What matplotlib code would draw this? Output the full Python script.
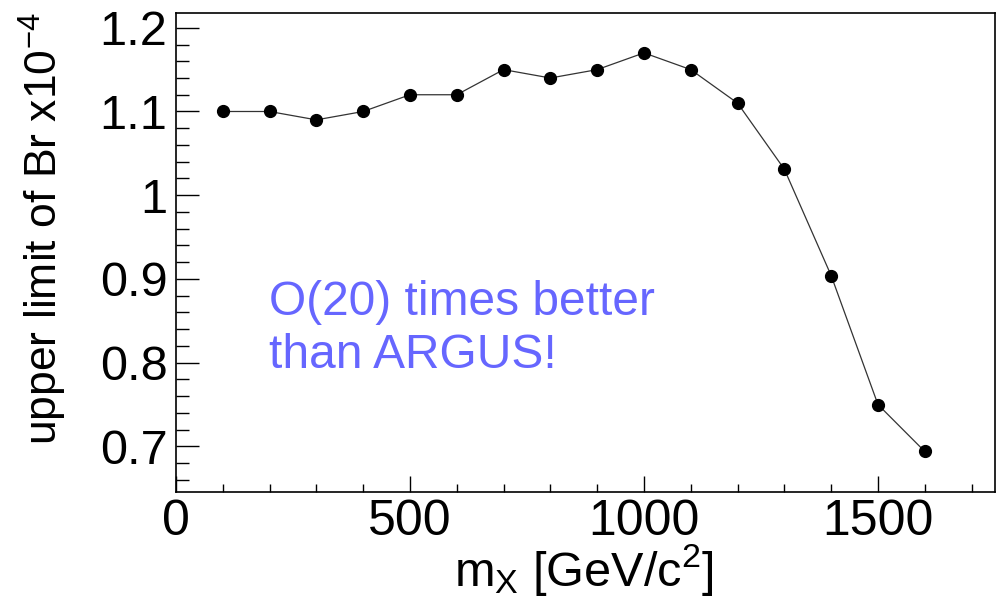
import matplotlib
matplotlib.use("Agg")
from matplotlib import pyplot as plt
from matplotlib.ticker import MultipleLocator

mass = [100, 200, 300, 400, 500, 600, 700, 800, 900, 1000, 1100, 1200, 1300, 1400, 1500, 1600]
limit = [1.10, 1.10, 1.09, 1.10, 1.12, 1.12, 1.15, 1.14, 1.15, 1.17, 1.15, 1.11, 1.031, 0.904, 0.750, 0.694]

plt.rcParams['font.family'] = ['Liberation Sans', 'DejaVu Sans']
plt.rcParams['mathtext.fontset'] = 'custom'
plt.rcParams['mathtext.rm'] = 'Liberation Sans'
plt.rcParams['mathtext.it'] = 'Liberation Sans'

fig = plt.figure(figsize=(10.02, 6.01), dpi=100)
ax = fig.add_axes([0.1756, 0.1819, 0.8174, 0.797])

ax.plot(mass, limit, color='#333333', linewidth=0.9, marker='o',
        markersize=8.5, markerfacecolor='black', markeredgecolor='black')

ax.set_xlim(0, 1750)
ax.set_ylim(0.646, 1.218)
ax.xaxis.set_major_locator(MultipleLocator(500))
ax.xaxis.set_minor_locator(MultipleLocator(100))
ax.yaxis.set_minor_locator(MultipleLocator(0.02))
ax.set_yticks([0.7, 0.8, 0.9, 1.0, 1.1, 1.2])
ax.set_yticklabels(['0.7', '0.8', '0.9', '1', '1.1', '1.2'])

ax.tick_params(axis='x', which='major', direction='in', length=11.5, width=1, labelsize=36, pad=5)
ax.tick_params(axis='x', which='minor', direction='in', length=5.8, width=1)
ax.tick_params(axis='y', which='major', direction='in', length=16.5, width=1, labelsize=35, pad=6)
ax.tick_params(axis='y', which='minor', direction='in', length=9, width=1)
for s in ax.spines.values():
    s.set_linewidth(1.2)

ax.set_xlabel(r'm$_{\mathrm{X}}$ [GeV/c$^{2}$]', fontsize=35)
ax.xaxis.set_label_coords(0.498, -0.105)
ax.set_ylabel(r'upper limit of Br x10$^{-4}$', fontsize=32, loc='top')
ax.yaxis.set_label_coords(-0.13, 1.0)

ax.text(0.114, 0.258, 'O(20) times better\nthan ARGUS!', transform=ax.transAxes,
        fontsize=34.5, color='#6666ff', ha='left', va='baseline', linespacing=1.22)

fig.savefig('out.png', dpi=100)
